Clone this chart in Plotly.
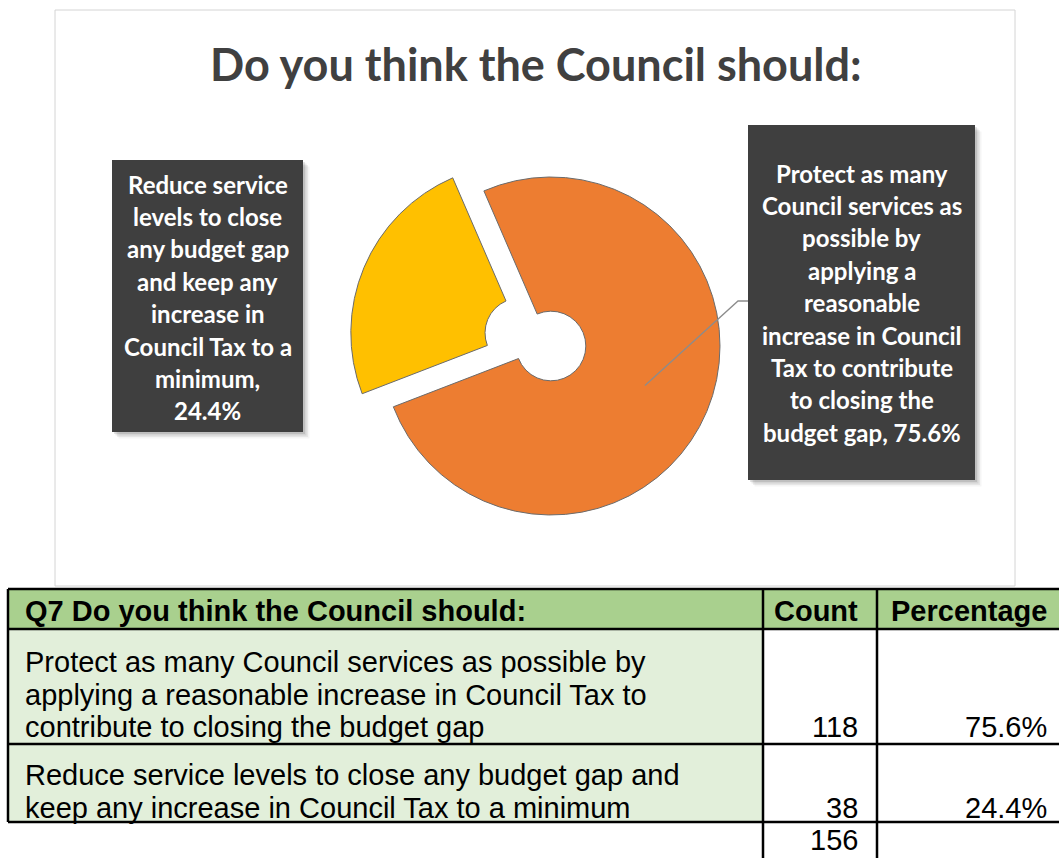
import math
import plotly.graph_objects as go

W, H = 1059, 858

# ---- data ----
options = [
    "Protect as many Council services as possible by applying a reasonable "
    "increase in Council Tax to contribute to closing the budget gap",
    "Reduce service levels to close any budget gap and keep any increase in "
    "Council Tax to a minimum",
]
counts = [118, 38]
slice_colors = ["#ED7D31", "#FFC000"]
slice_pull = [0, 0.2]
chart_title = "Do you think the Council should:"
table_header = ["Q7 Do you think the Council should:", "Count", "Percentage"]

# line breaks used for the callout boxes and for the table's first column
callout_lines = [
    ["Protect as many", "Council services as", "possible by", "applying a",
     "reasonable", "increase in Council", "Tax to contribute", "to closing the",
     "budget gap, {pct}"],
    ["Reduce service", "levels to close", "any budget gap", "and keep any",
     "increase in", "Council Tax to a", "minimum,", "{pct}"],
]
table_lines = [
    ["Protect as many Council services as possible by",
     "applying a reasonable increase in Council Tax to",
     "contribute to closing the budget gap"],
    ["Reduce service levels to close any budget gap and",
     "keep any increase in Council Tax to a minimum"],
]

total = sum(counts)
pcts = [f"{100 * c / total:.1f}%" for c in counts]


def px(x):
    return x / W


def py(y):
    return 1 - y / H


# ---- pie geometry (pixels) ----
cx, cy, r_out = 551, 346, 169
hole = 0.206
rotation = -23.4
max_pull = max(slice_pull)
half = r_out * (1 + max_pull)

fig = go.Figure()
fig.add_trace(go.Pie(
    values=counts,
    labels=options,
    marker=dict(colors=slice_colors, line=dict(color="#6b6b6b", width=1)),
    hole=hole,
    pull=slice_pull,
    sort=False,
    direction="clockwise",
    rotation=rotation,
    textinfo="none",
    hoverinfo="label+value+percent",
    showlegend=False,
    domain=dict(x=[px(cx - half), px(cx + half)],
                y=[py(cy + half), py(cy - half)]),
))

shapes = []
annotations = []

# chart frame
shapes.append(dict(type="rect", xref="paper", yref="paper",
                   x0=px(55), x1=px(1015), y0=py(586), y1=py(10),
                   line=dict(color="#d4d4d4", width=1), fillcolor="rgba(0,0,0,0)",
                   layer="below"))

annotations.append(dict(text=f"<b>{chart_title}</b>", x=px(536), y=py(64),
                        xref="paper", yref="paper", showarrow=False,
                        font=dict(family="Lato", size=45, color="#404040"),
                        xanchor="center", yanchor="middle"))

# leader line from the middle of the large ring slice to its callout
mid_angle = math.radians(rotation + 360 * counts[0] / total / 2)
r_mid = r_out * (1 + hole) / 2
lx0 = cx + r_mid * math.sin(mid_angle)
ly0 = cy - r_mid * math.cos(mid_angle)
shapes.append(dict(type="path", xref="paper", yref="paper",
                   path=f"M {px(lx0)} {py(ly0)} L {px(738)} {py(301)} L {px(748)} {py(301)}",
                   line=dict(color="#8c8c8c", width=1.3)))

# callout boxes
boxes = [(748, 125, 975, 480, 173), (112, 160, 303, 432, 184)]
for i, (x0, y0, x1, y1, first) in enumerate(boxes):
    for k, a in enumerate([0.10, 0.08, 0.06, 0.04]):
        off = 2 + k * 1.5
        shapes.append(dict(type="rect", xref="paper", yref="paper",
                           x0=px(x0 + off), x1=px(x1 + off),
                           y0=py(y1 + off), y1=py(y0 + off),
                           line=dict(width=0), fillcolor=f"rgba(0,0,0,{a})"))
    shapes.append(dict(type="rect", xref="paper", yref="paper",
                       x0=px(x0), x1=px(x1), y0=py(y1), y1=py(y0),
                       line=dict(width=0), fillcolor="#3f3f3f"))
    for j, line in enumerate(callout_lines[i]):
        annotations.append(dict(text="<b>" + line.format(pct=pcts[i]) + "</b>",
                                x=px((x0 + x1) / 2), y=py(first + 32.4 * j),
                                xref="paper", yref="paper", showarrow=False,
                                font=dict(family="Lato", size=24, color="white"),
                                xanchor="center", yanchor="middle"))

# ---- table ----
tl, tr = 8, 1075
c1, c2 = 763, 877
hy0, hy1 = 589, 629
row_bottoms = [744, 822]
black = "#000000"
lw = 2.5
tfont = "Liberation Sans, Arial"

shapes.append(dict(type="rect", xref="paper", yref="paper",
                   x0=px(tl), x1=px(tr), y0=py(hy1), y1=py(hy0),
                   line=dict(width=0), fillcolor="#A9D08E"))
shapes.append(dict(type="rect", xref="paper", yref="paper",
                   x0=px(tl), x1=px(c1), y0=py(row_bottoms[-1]), y1=py(hy1),
                   line=dict(width=0), fillcolor="#E2EFDA"))


def hline(y, x0=tl, x1=tr):
    shapes.append(dict(type="line", xref="paper", yref="paper",
                       x0=px(x0), x1=px(x1), y0=py(y), y1=py(y),
                       line=dict(color=black, width=lw)))


def vline(x, y0, y1):
    shapes.append(dict(type="line", xref="paper", yref="paper",
                       x0=px(x), x1=px(x), y0=py(y0), y1=py(y1),
                       line=dict(color=black, width=lw)))


for y in [hy0, hy1] + row_bottoms:
    hline(y)
vline(tl, hy0, row_bottoms[-1])
vline(c1, hy0, H + 5)
vline(c2, hy0, H + 5)

annotations.append(dict(text=f"<b>{table_header[0]}</b>", x=px(23), y=py(611),
                        xref="paper", yref="paper", showarrow=False,
                        font=dict(family=tfont, size=29, color=black),
                        xanchor="left", yanchor="middle"))
for txt, xr in zip(table_header[1:], [860, 1049]):
    annotations.append(dict(text=f"<b>{txt}</b>", x=px(xr), y=py(611),
                            xref="paper", yref="paper", showarrow=False,
                            font=dict(family=tfont, size=29, color=black),
                            xanchor="right", yanchor="middle"))

row_first = [662, 775]
for i, lines in enumerate(table_lines):
    for j, line in enumerate(lines):
        annotations.append(dict(text=line, x=px(23), y=py(row_first[i] + 32.5 * j),
                                xref="paper", yref="paper", showarrow=False,
                                font=dict(family=tfont, size=29, color=black),
                                xanchor="left", yanchor="middle"))
    last_y = row_first[i] + 32.5 * (len(lines) - 1)
    annotations.append(dict(text=str(counts[i]), x=px(860), y=py(last_y),
                            xref="paper", yref="paper", showarrow=False,
                            font=dict(family=tfont, size=29, color=black),
                            xanchor="right", yanchor="middle"))
    annotations.append(dict(text=pcts[i], x=px(1049), y=py(last_y),
                            xref="paper", yref="paper", showarrow=False,
                            font=dict(family=tfont, size=29, color=black),
                            xanchor="right", yanchor="middle"))

annotations.append(dict(text=str(total), x=px(860), y=py(840),
                        xref="paper", yref="paper", showarrow=False,
                        font=dict(family=tfont, size=29, color=black),
                        xanchor="right", yanchor="middle"))

fig.update_layout(
    width=W, height=H,
    margin=dict(l=0, r=0, t=0, b=0),
    paper_bgcolor="white",
    plot_bgcolor="white",
    shapes=shapes,
    annotations=annotations,
)

fig.write_html("out.html")
